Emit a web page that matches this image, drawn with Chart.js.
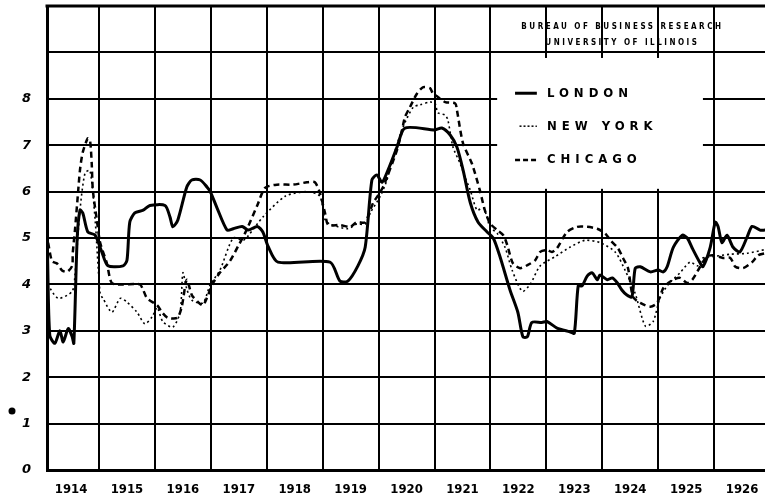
<!DOCTYPE html>
<html>
<head>
<meta charset="utf-8">
<script src="https://cdn.jsdelivr.net/npm/chart.js@4/dist/chart.umd.min.js"></script>
<style>
  html, body { margin: 0; padding: 0; background: #fff; }
</style>
</head>
<body>
<canvas id="chart" width="765" height="503"></canvas>
<script>
// year labels sit between the yearly grid lines
const yearLabels = ['1914', '1915', '1916', '1917', '1918', '1919', '1920', '1921', '1922', '1923', '1924', '1925', '1926'];
const yTickLabels = ['0', '1', '2', '3', '4', '5', '6', '7', '8', '', ''];

// London (solid)
const londonT = [1914.08, 1914.12, 1914.21, 1914.30, 1914.36, 1914.45, 1914.52, 1914.55, 1914.61, 1914.66, 1914.71, 1914.80, 1914.93,
  1915.05, 1915.16, 1915.43, 1915.50, 1915.55, 1915.64, 1915.79, 1915.91, 1916.18, 1916.27, 1916.32, 1916.41, 1916.57, 1916.66,
  1916.81, 1916.93, 1916.99, 1917.11, 1917.29, 1917.40, 1917.56, 1917.67, 1917.83, 1917.93, 1918.02, 1918.20, 1919.13, 1919.31,
  1919.45, 1919.63, 1919.76, 1919.88, 1919.97, 1920.06, 1920.17, 1920.33, 1920.47, 1921.01, 1921.13, 1921.28, 1921.40, 1921.51,
  1921.64, 1921.78, 1921.94, 1922.05, 1922.17, 1922.35, 1922.49, 1922.58, 1922.66, 1922.74, 1922.92, 1923.01, 1923.19, 1923.42,
  1923.50, 1923.57, 1923.64, 1923.73, 1923.82, 1923.91, 1923.96, 1924.09, 1924.18, 1924.27, 1924.35, 1924.44, 1924.53, 1924.59,
  1924.68, 1924.86, 1925.00, 1925.09, 1925.16, 1925.27, 1925.43, 1925.52, 1925.61, 1925.75, 1925.80, 1925.93, 1926.02, 1926.07,
  1926.14, 1926.23, 1926.34, 1926.46, 1926.59, 1926.68, 1926.82, 1926.91];
const londonV = [4.6, 2.9, 2.73, 3.0, 2.76, 3.05, 2.87, 2.73, 5.0, 5.6, 5.54, 5.13, 5.06,
  4.7, 4.4, 4.4, 4.52, 5.34, 5.54, 5.6, 5.7, 5.7, 5.45, 5.24, 5.39, 6.1, 6.25,
  6.25, 6.1, 6.0, 5.65, 5.17, 5.2, 5.25, 5.17, 5.25, 5.13, 4.83, 4.48, 4.48, 4.07,
  4.07, 4.4, 4.8, 6.25, 6.36, 6.2, 6.47, 6.96, 7.37, 7.33, 7.37, 7.22, 6.96, 6.47,
  5.76, 5.34, 5.13, 5.0, 4.6, 3.88, 3.4, 2.87, 2.87, 3.18, 3.18, 3.2, 3.06, 2.98,
  2.95, 3.97, 3.97, 4.18, 4.25, 4.1, 4.2, 4.1, 4.14, 4.03, 3.88, 3.77, 3.73, 4.35,
  4.38, 4.27, 4.31, 4.27, 4.38, 4.8, 5.06, 5.0, 4.78, 4.46, 4.38, 4.8, 5.34, 5.25,
  4.9, 5.06, 4.8, 4.7, 5.02, 5.25, 5.17, 5.17];

// New York (dotted)
const newYorkT = [1914.08, 1914.27, 1914.52, 1914.57, 1914.66, 1914.75, 1914.84, 1914.93, 1915.02, 1915.07, 1915.23, 1915.38,
  1915.50, 1915.68, 1915.82, 1915.95, 1916.04, 1916.14, 1916.32, 1916.45, 1916.50, 1916.57, 1916.66, 1916.86, 1916.99, 1917.16,
  1917.40, 1917.58, 1917.67, 1917.93, 1918.33, 1918.72, 1918.95, 1919.04, 1919.13, 1919.45, 1919.61, 1919.76, 1919.85, 1920.03,
  1920.15, 1920.26, 1920.44, 1920.62, 1920.74, 1920.92, 1921.01, 1921.06, 1921.19, 1921.24, 1921.33, 1921.46, 1921.55, 1921.64,
  1921.76, 1921.87, 1921.94, 1921.99, 1922.12, 1922.26, 1922.39, 1922.57, 1922.71, 1922.89, 1923.16, 1923.42, 1923.69, 1923.96,
  1924.23, 1924.41, 1924.59, 1924.77, 1924.91, 1925.03, 1925.18, 1925.39, 1925.57, 1925.71, 1925.80, 1925.98, 1926.29, 1926.59,
  1926.91];
const newYorkV = [4.0, 3.7, 3.85, 4.2, 5.6, 6.4, 6.45, 5.4, 3.8, 3.7, 3.4, 3.7,
  3.62, 3.4, 3.15, 3.3, 3.5, 3.2, 3.08, 3.4, 4.25, 3.9, 3.66, 3.6, 4.0, 4.3,
  5.0, 4.95, 5.05, 5.45, 5.9, 6.0, 5.9, 5.4, 5.3, 5.2, 5.3, 5.3, 5.54, 5.9,
  6.25, 6.75, 7.4, 7.82, 7.87, 7.93, 7.9, 7.7, 7.65, 7.54, 6.96, 6.6, 6.3, 6.03,
  5.6, 5.65, 5.45, 5.24, 5.1, 4.8, 4.3, 3.85, 4.0, 4.4, 4.6, 4.8, 4.95, 4.9,
  4.7, 4.3, 3.8, 3.1, 3.2, 3.7, 4.0, 4.25, 4.48, 4.4, 4.57, 4.6, 4.65, 4.67,
  4.75];

// Chicago (dashed)
const chicagoT = [1914.09, 1914.16, 1914.25, 1914.34, 1914.43, 1914.52, 1914.53, 1914.57, 1914.62, 1914.66, 1914.71, 1914.80,
  1914.84, 1914.87, 1914.89, 1914.96, 1915.02, 1915.14, 1915.23, 1915.43, 1915.73, 1915.79, 1915.86, 1916.04, 1916.14, 1916.23,
  1916.40, 1916.48, 1916.57, 1916.66, 1916.77, 1916.86, 1916.95, 1917.04, 1917.16, 1917.34, 1917.49, 1917.61, 1917.83, 1917.97,
  1918.18, 1918.47, 1918.72, 1918.86, 1918.95, 1919.04, 1919.10, 1919.31, 1919.49, 1919.61, 1919.76, 1919.90, 1919.99, 1920.08,
  1920.20, 1920.33, 1920.42, 1920.47, 1920.56, 1920.69, 1920.80, 1920.92, 1920.97, 1921.06, 1921.19, 1921.37, 1921.40, 1921.51,
  1921.67, 1921.81, 1921.90, 1921.99, 1922.12, 1922.23, 1922.30, 1922.40, 1922.53, 1922.67, 1922.80, 1922.89, 1923.01, 1923.10,
  1923.19, 1923.37, 1923.55, 1923.73, 1923.91, 1924.05, 1924.14, 1924.28, 1924.37, 1924.46, 1924.55, 1924.68, 1924.86, 1924.98,
  1925.09, 1925.18, 1925.27, 1925.39, 1925.52, 1925.61, 1925.75, 1925.87, 1925.98, 1926.16, 1926.29, 1926.38, 1926.52, 1926.68,
  1926.79, 1926.91];
const chicagoV = [4.9, 4.5, 4.45, 4.3, 4.27, 4.4, 4.67, 5.17, 5.9, 6.47, 6.85, 7.15,
  7.1, 6.6, 6.03, 5.4, 4.9, 4.46, 4.03, 4.0, 4.0, 3.88, 3.7, 3.55, 3.38, 3.28,
  3.28, 3.52, 4.1, 3.77, 3.62, 3.55, 3.77, 4.03, 4.25, 4.5, 4.83, 5.1, 5.7, 6.08,
  6.15, 6.15, 6.2, 6.2, 5.97, 5.55, 5.28, 5.28, 5.24, 5.34, 5.34, 5.75, 5.92, 6.1,
  6.47, 6.9, 7.33, 7.6, 7.82, 8.12, 8.25, 8.23, 8.12, 8.04, 7.93, 7.9, 7.76, 7.04,
  6.6, 6.03, 5.6, 5.32, 5.17, 5.06, 4.85, 4.46, 4.35, 4.42, 4.52, 4.7, 4.74, 4.7,
  4.78, 5.13, 5.24, 5.24, 5.2, 5.1, 4.96, 4.78, 4.57, 4.35, 3.73, 3.6, 3.52, 3.6,
  3.92, 4.03, 4.1, 4.14, 4.03, 4.1, 4.38, 4.6, 4.63, 4.57, 4.57, 4.38, 4.35, 4.48,
  4.63, 4.67];

function points(ts, vs) {
  return ts.map((t, i) => ({ x: t, y: vs[i] }));
}

const labelFont = "'DejaVu Sans Condensed', 'DejaVu Sans', sans-serif";

// header, legend box and the top frame line, drawn inside the plot
const overlay = {
  id: 'overlay',
  beforeDatasetsDraw(chart) {
    const { ctx, chartArea: a, scales: { x, y } } = chart;
    ctx.save();

    ctx.strokeStyle = '#000';
    ctx.lineWidth = 3;
    ctx.beginPath();
    ctx.moveTo(a.left - 1.5, a.top);
    ctx.lineTo(a.right, a.top);
    ctx.stroke();

    // white legend panel over the grid
    const bx0 = x.getPixelForValue(1922.12), bx1 = x.getPixelForValue(1925.80);
    const by0 = y.getPixelForValue(8.88), by1 = y.getPixelForValue(6.06);
    ctx.fillStyle = '#fff';
    ctx.fillRect(bx0, by0, bx1 - bx0, by1 - by0);

    ctx.fillStyle = '#000';
    ctx.textBaseline = 'middle';
    ctx.textAlign = 'center';
    ctx.font = "bold 8px " + labelFont;
    ctx.letterSpacing = '2.5px';
    const hx = x.getPixelForValue(1924.36);
    ctx.fillText('BUREAU OF BUSINESS RESEARCH', hx, y.getPixelForValue(9.55));
    ctx.fillText('UNIVERSITY OF ILLINOIS', hx, y.getPixelForValue(9.2));

    const rows = [
      { text: 'LONDON', v: 8.12, width: 3, dash: [], x0: 1922.44 },
      { text: 'NEW YORK', v: 7.41, width: 1.5, dash: [2, 2], x0: 1922.52 },
      { text: 'CHICAGO', v: 6.68, width: 2.5, dash: [5, 3], x0: 1922.44 }
    ];
    ctx.textAlign = 'left';
    ctx.font = "bold 13px " + labelFont;
    ctx.letterSpacing = '5px';
    rows.forEach(r => {
      const py = y.getPixelForValue(r.v);
      ctx.beginPath();
      ctx.lineWidth = r.width;
      ctx.setLineDash(r.dash);
      ctx.moveTo(x.getPixelForValue(r.x0), py);
      ctx.lineTo(x.getPixelForValue(1922.83), py);
      ctx.stroke();
      ctx.setLineDash([]);
      ctx.fillText(r.text, x.getPixelForValue(1923.01), py);
    });

    // ink blot left of the axis
    ctx.beginPath();
    ctx.arc(12, y.getPixelForValue(1.27), 3.5, 0, Math.PI * 2);
    ctx.fill();
    ctx.restore();
  }
};

new Chart(document.getElementById('chart'), {
  type: 'line',
  data: {
    datasets: [
      {
        label: 'LONDON',
        data: points(londonT, londonV),
        borderColor: '#000',
        borderWidth: 3,
        pointRadius: 0,
        tension: 0.25
      },
      {
        label: 'NEW YORK',
        data: points(newYorkT, newYorkV),
        borderColor: '#000',
        borderWidth: 1.6,
        borderDash: [2, 3],
        pointRadius: 0,
        tension: 0.25
      },
      {
        label: 'CHICAGO',
        data: points(chicagoT, chicagoV),
        borderColor: '#000',
        borderWidth: 2.5,
        borderDash: [6, 4],
        pointRadius: 0,
        tension: 0.25
      }
    ]
  },
  options: {
    responsive: false,
    animation: false,
    layout: { padding: { top: 6, right: 0, left: 0, bottom: 0 } },
    plugins: {
      legend: { display: false },
      tooltip: { enabled: false }
    },
    scales: {
      x: {
        type: 'linear',
        min: 1914.07,
        max: 1926.91,
        afterBuildTicks: s => { s.ticks = yearLabels.map(l => ({ value: Number(l) + 0.5 })); },
        afterFit: s => { s.height = 33; s.paddingLeft = 0; s.paddingRight = 0; },
        ticks: {
          autoSkip: false,
          maxRotation: 0,
          padding: 12,
          color: '#000',
          font: { family: labelFont, size: 13, weight: 'bold' },
          callback: (v, i) => yearLabels[i]
        },
        grid: { offset: true, color: '#000', lineWidth: 2, drawTicks: false },
        border: { display: true, color: '#000', width: 3 }
      },
      y: {
        min: 0,
        max: 10,
        afterBuildTicks: s => { s.ticks = yTickLabels.map((l, i) => ({ value: i })); },
        afterFit: s => { s.width = 47; s.paddingTop = 0; s.paddingBottom = 0; },
        ticks: {
          padding: 16,
          color: '#000',
          font: { family: "'DejaVu Sans', sans-serif", size: 13, weight: 'bold', style: 'italic' },
          callback: (v, i) => yTickLabels[i]
        },
        grid: { color: '#000', lineWidth: 2, drawTicks: false },
        border: { display: true, color: '#000', width: 3 }
      }
    }
  },
  plugins: [overlay]
});
</script>
</body>
</html>
